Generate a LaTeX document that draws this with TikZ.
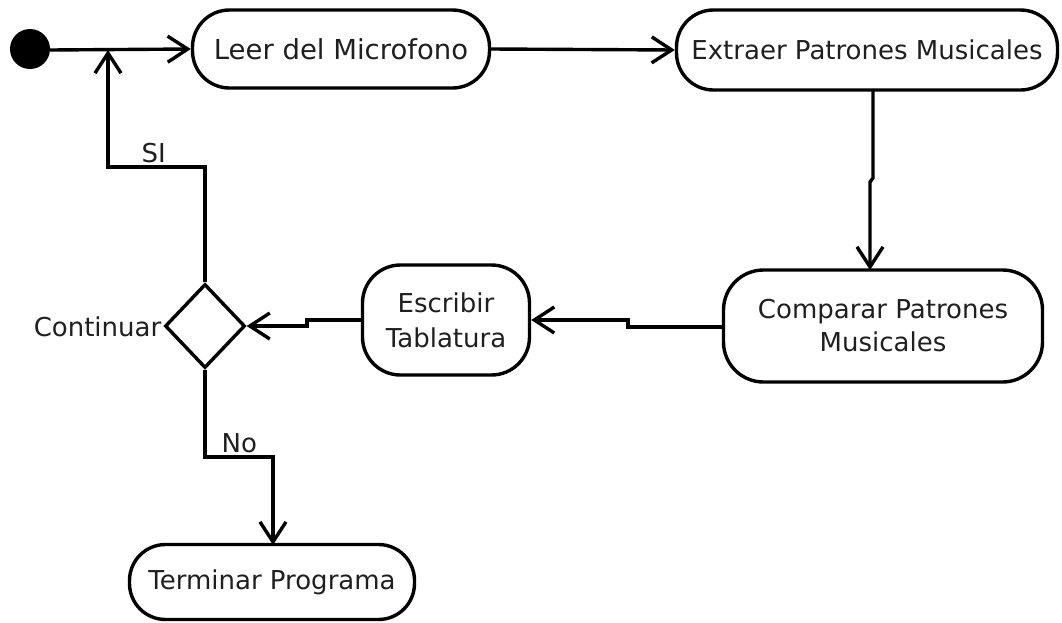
\documentclass[tikz,border=0pt]{standalone}
\usepackage{fontspec}
\setmainfont{DejaVu Sans}
\usetikzlibrary{arrows.meta,shapes.geometric}
\begin{document}
\begin{tikzpicture}[x=1pt,y=-1pt,
  line width=3.4pt,
  every node/.style={font=\fontsize{26}{32}\selectfont, text=black!88},
  act/.style={draw, rounded corners=37pt, inner sep=0pt, align=center},
  flow/.style={-{Straight Barb[length=20pt,width=26pt,line width=3.4pt]}, line join=miter},
  lbl/.style={inner sep=0pt}]
\useasboundingbox (0,0) rectangle (1062,622);
\fill (30,49) circle (20) coordinate (start);
\node[act, minimum width=297pt, minimum height=78pt, font=\fontsize{27.5}{32}\selectfont] (leer) at (341,49) {Leer del Microfono};
\node[act, minimum width=381pt, minimum height=80pt] (extr) at (867,50) {Extraer Patrones Musicales};
\node[act, minimum width=319pt, minimum height=112pt, rounded corners=40pt, font=\fontsize{26}{33}\selectfont] (comp) at (883,326) {Comparar Patrones\\Musicales};
\node[act, minimum width=167pt, minimum height=110pt, rounded corners=38pt, font=\fontsize{26}{35}\selectfont] (escr) at (446,320) {Escribir\\Tablatura};
\node[draw, diamond, minimum width=80pt, minimum height=84pt, inner sep=0pt] (dec) at (205,326) {};
\node[lbl, anchor=east] (cont) at (163,327) {Continuar};
\node[act, minimum width=285pt, minimum height=75pt, rounded corners=36pt] (term) at (272,582) {Terminar Programa};
\coordinate (join) at (108,50);
\draw[flow] (50,50) -- (leer.west);
\draw[flow] (leer.east) -- (extr.west);
\draw[flow] (873,90) -- (873,178) -- (870,182) -- (870,270);
\draw[flow] (comp.west |- 0,327) -- (628,327) -- (628,320) -- (escr.east);
\draw[flow] (escr.west) -- (307,320) -- (307,326) -- (dec.east);
\draw[flow] (dec.north) -- (205,167) -- (108,167) -- (join);
\draw[flow] (dec.south) -- (205,457) -- (273,457) -- (273,545);
\node[lbl, anchor=south west] (si) at (140,165) {SI};
\node[lbl, anchor=south west] (no) at (220,455) {No};
\end{tikzpicture}
\end{document}
